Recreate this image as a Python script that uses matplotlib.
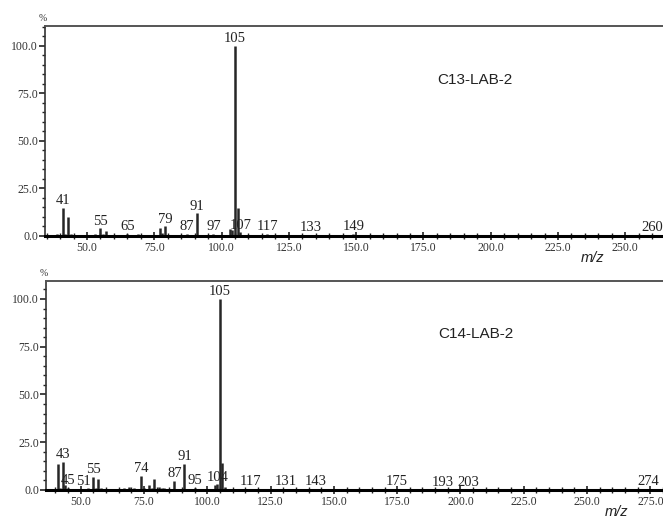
import matplotlib
matplotlib.use("Agg")
import matplotlib.pyplot as plt
from matplotlib.ticker import MultipleLocator, FormatStrFormatter

# Spectrum 1: C13-LAB-2
c13_mz = [39, 41, 42, 43, 44, 51, 53, 55, 56, 57, 63, 65, 67, 69, 71, 74, 77, 78, 79, 81,
          85, 87, 91, 97, 103, 104, 105, 106, 107, 115, 117, 133, 149, 260]
c13_int = [1.0, 14.7, 1.0, 10.0, 1.0, 0.5, 1.0, 4.0, 1.0, 2.5, 0.5, 1.2, 0.5, 1.0, 0.5, 0.5, 4.0, 1.5, 5.0, 0.5,
           0.5, 1.0, 12.0, 1.0, 3.5, 3.0, 100.0, 14.5, 2.0, 0.5, 1.0, 0.5, 1.0, 0.5]
c13_labels = [41, 55, 65, 79, 87, 91, 97, 105, 107, 117, 133, 149, 260]

# Spectrum 2: C14-LAB-2
c14_mz = [41, 42, 43, 44, 45, 51, 53, 55, 56, 57, 58, 65, 67, 69, 71, 74, 75, 77, 78, 79,
          81, 82, 83, 87, 91, 95, 97, 103, 104, 105, 106, 107, 117, 131, 143, 175, 193, 203, 274]
c14_int = [13.6, 1.0, 14.7, 2.5, 1.0, 0.5, 1.0, 6.8, 1.0, 5.5, 1.0, 0.5, 1.0, 1.5, 1.0, 7.3, 1.0, 2.5, 1.0, 5.8,
           1.5, 1.0, 1.0, 4.7, 13.6, 1.0, 0.5, 2.5, 3.0, 100.0, 14.0, 1.5, 0.5, 0.5, 0.5, 0.5, 0.3, 0.3, 0.5]
c14_labels = [43, 45, 51, 55, 74, 87, 91, 95, 104, 105, 117, 131, 143, 175, 193, 203, 274]

y_ticks = [0, 25, 50, 75, 100]

SERIF = "Liberation Serif"
SANS = "Liberation Sans"
BAR = "#262626"

fig = plt.figure(figsize=(6.63, 5.18), dpi=100)


def draw_spectrum(ax, mz, inten, labels, name, xlim, ylim, x_major_max):
    ax.vlines(mz, 0, inten, color=BAR, linewidth=1.8)
    lookup = dict(zip(mz, inten))
    for m in labels:
        ax.annotate(str(m), xy=(m, lookup[m]), xytext=(0, 0.5), textcoords="offset points",
                    ha="center", va="bottom", fontsize=10.5, family=SERIF, color="#222222")
    ax.set_xlim(*xlim)
    ax.set_ylim(*ylim)
    ax.xaxis.set_minor_locator(MultipleLocator(5))
    ax.yaxis.set_minor_locator(MultipleLocator(5))
    ax.set_xticks([t for t in range(50, x_major_max + 1, 25)])
    ax.set_yticks(y_ticks)
    ax.xaxis.set_major_formatter(FormatStrFormatter("%.1f"))
    ax.yaxis.set_major_formatter(FormatStrFormatter("%.1f"))
    for lab in ax.get_xticklabels() + ax.get_yticklabels():
        lab.set_fontfamily(SERIF)
        lab.set_fontsize(8.5)
        lab.set_color("#333333")
    ax.tick_params(axis="x", which="major", direction="inout", length=6, width=1.2, pad=1, color="#222222")
    ax.tick_params(axis="x", which="minor", direction="inout", length=4, width=1.0, color="#222222")
    ax.tick_params(axis="y", which="major", direction="out", length=4, width=1.2, pad=1, color="#222222")
    ax.tick_params(axis="y", which="minor", direction="out", length=2.5, width=1.0, color="#222222")
    ax.spines["right"].set_visible(False)
    ax.spines["top"].set_color("#555555")
    ax.spines["top"].set_linewidth(1.4)
    ax.spines["left"].set_color("#333333")
    ax.spines["left"].set_linewidth(1.2)
    ax.spines["bottom"].set_color("black")
    ax.spines["bottom"].set_linewidth(2.2)
    ax.text(0.696, 0.745, name, transform=ax.transAxes, ha="center", va="center",
            fontsize=11, family=SANS, color="#222222")
    ax.text(-0.003, 1.015, "%", transform=ax.transAxes, ha="center", va="bottom",
            fontsize=7, family=SERIF, color="#333333")


ax1 = fig.add_axes([45 / 663, (518 - 236) / 518, 618 / 663, 210 / 518])
draw_spectrum(ax1, c13_mz, c13_int, c13_labels, "C13-LAB-2", (34.4, 264), (0, 110.5), 250)
ax1.text(593 / 663, (518 - 258) / 518, "m/z", transform=fig.transFigure, ha="center", va="center",
         fontsize=10.5, family=SANS, style="italic", color="#222222")

ax2 = fig.add_axes([46 / 663, (518 - 490) / 518, 617 / 663, 209 / 518])
draw_spectrum(ax2, c14_mz, c14_int, c14_labels, "C14-LAB-2", (36.3, 280), (0, 109.4), 275)
ax2.text(617 / 663, (518 - 512) / 518, "m/z", transform=fig.transFigure, ha="center", va="center",
         fontsize=10.5, family=SANS, style="italic", color="#222222")

fig.savefig("out.png", dpi=100)
